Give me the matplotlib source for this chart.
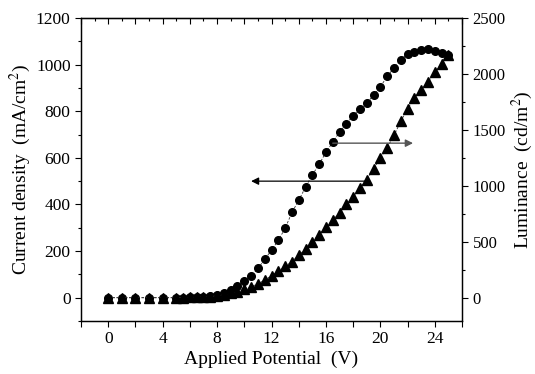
import numpy as np
import matplotlib
matplotlib.use("Agg")
import matplotlib.pyplot as plt
from matplotlib.ticker import MultipleLocator

plt.rcParams["font.family"] = ["Liberation Serif", "DejaVu Serif"]
plt.rcParams["mathtext.fontset"] = "stix"

# applied potential (V): 0..4 in 1 V steps, then 5..25 in 0.5 V steps
voltage = [0, 1, 2, 3, 4] + [5 + 0.5 * i for i in range(41)]

# current density (mA/cm2), triangles, left axis
current = [0, 0, 0, 0, 0,
           0, 0, 1, 2, 3, 5, 8, 12, 18, 26,          # 5.0 - 9.5
           36, 47, 60, 75, 95, 113, 134, 155, 182,   # 10.0 - 14.0
           210, 241, 271, 302, 333, 364, 400, 433,   # 14.5 - 18.0
           471, 507, 553, 600, 643, 696, 757, 810,   # 18.5 - 22.0
           857, 893, 926, 967, 1003, 1043]           # 22.5 - 25.0

# luminance (cd/m2), circles, right axis
luminance = [0, 0, 0, 0, 0,
             0, 1, 2, 4, 8, 14, 25, 42, 66, 102,           # 5.0 - 9.5
             146, 193, 262, 342, 425, 513, 620, 762, 870,  # 10.0 - 14.0
             988, 1098, 1192, 1300, 1389, 1482, 1554, 1628,  # 14.5 - 18.0
             1688, 1741, 1809, 1884, 1979, 2054, 2128, 2179,  # 18.5 - 22.0
             2193, 2217, 2223, 2202, 2188, 2170]              # 22.5 - 25.0

fig = plt.figure(figsize=(5.35, 3.74), dpi=100)
ax = fig.add_axes([0.1514, 0.1417, 0.7122, 0.8102])
ax2 = ax.twinx()

ax2.plot(voltage, luminance, ls=(0, (3, 2)), lw=0.6, color="#333333",
         marker="o", ms=5.5, mfc="black", mec="black")
ax.plot(voltage, current, ls=(0, (3, 2)), lw=0.6, color="#333333",
        marker="^", ms=6.5, mfc="black", mec="black")

# keep triangles drawn over the circles
ax.set_zorder(ax2.get_zorder() + 1)
ax.patch.set_visible(False)

ax.set_xlim(-2, 26)
ax.set_ylim(-100, 1200)
ax2.set_ylim(-100 * 2500 / 1200, 2500)

ax.xaxis.set_major_locator(MultipleLocator(4))
ax.xaxis.set_minor_locator(MultipleLocator(2))
ax.yaxis.set_major_locator(MultipleLocator(200))
ax.yaxis.set_minor_locator(MultipleLocator(100))
ax2.yaxis.set_major_locator(MultipleLocator(500))
ax2.yaxis.set_minor_locator(MultipleLocator(250))

ax.tick_params(axis="x", which="major", direction="out", length=4, width=0.8,
               labelsize=12.5, top=False)
ax.tick_params(axis="x", which="minor", direction="out", length=4, width=0.8, top=False)
ax.tick_params(axis="y", which="major", direction="out", length=4, width=0.8, labelsize=12.5)
ax.tick_params(axis="y", which="minor", direction="out", length=2.5, width=0.8)
ax2.tick_params(axis="y", which="major", direction="out", length=4, width=0.8, labelsize=12)
ax2.tick_params(axis="y", which="minor", direction="out", length=2.5, width=0.8)

# inward ticks on the top edge: long every 2 V, short every 1 V
top = ax.secondary_xaxis("top")
top.xaxis.set_major_locator(MultipleLocator(2))
top.xaxis.set_minor_locator(MultipleLocator(1))
top.tick_params(which="major", direction="in", length=4, width=0.8, labeltop=False)
top.tick_params(which="minor", direction="in", length=2.5, width=0.8)

for a in (ax, ax2):
    for s in a.spines.values():
        s.set_linewidth(0.9)

ax.set_xlabel("Applied Potential  (V)", fontsize=14, labelpad=2)
ax.set_ylabel("Current density  (mA/cm$^2$)", fontsize=14, labelpad=2)
ax2.set_ylabel("Luminance  (cd/m$^2$)", fontsize=14, labelpad=3)

# arrows pointing to the axis each curve belongs to
ax.annotate("", xy=(22.4, 663), xytext=(16.5, 663),
            arrowprops=dict(arrowstyle="-|>", color="#555555", lw=1.0,
                            mutation_scale=11, shrinkA=0, shrinkB=0))
ax.annotate("", xy=(10.5, 500), xytext=(18.9, 500),
            arrowprops=dict(arrowstyle="-|>", color="black", lw=0.9,
                            mutation_scale=11, shrinkA=0, shrinkB=0))

fig.savefig("out.png", dpi=100)
